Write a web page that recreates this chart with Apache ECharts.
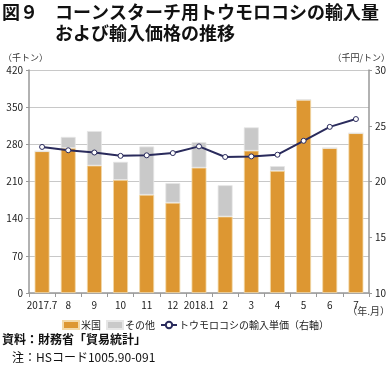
<!DOCTYPE html>
<html><head><meta charset="utf-8">
<script src="https://cdn.jsdelivr.net/npm/echarts@6/dist/echarts.min.js"></script>
<style>html,body{margin:0;padding:0;background:#fff}#c{width:391px;height:366px}</style>
</head><body><div id="c"></div>
<script>
var categories = ['2017.7','8','9','10','11','12','2018.1','2','3','4','5','6','7'];
var usValues = [267, 273, 240, 213, 185, 170, 236, 144, 268, 230, 364, 273, 301];
var otherValues = [0, 21, 65, 34, 91, 37, 48, 59, 44, 9, 0, 0, 0];
var priceValues = [23.1, 22.8, 22.6, 22.3, 22.35, 22.55, 23.15, 22.2, 22.25, 22.4, 23.65, 24.9, 25.6];
var leftTicks = [0, 70, 140, 210, 280, 350, 420];
var rightTicks = [10, 15, 20, 25, 30];

var F = '"Noto Sans CJK JP", "Noto Sans", sans-serif';
var chart = echarts.init(document.getElementById('c'));
chart.setOption({
  animation: false,
  textStyle: {fontFamily: F},
  grid: {left: 29, right: 22, top: 70, bottom: 73},
  legend: {
    top: 315, left: 'center', itemGap: 5, itemWidth: 16, itemHeight: 8,
    textStyle: {fontSize: 10, color: '#222', fontFamily: F, padding: [0, 0, 0, -3]},
    data: [
      {name: '米国', icon: 'rect'},
      {name: 'その他', icon: 'rect'},
      {name: 'トウモロコシの輸入単価（右軸）'}
    ]
  },
  xAxis: {
    type: 'category', data: categories,
    axisLine: {lineStyle: {color: '#999', width: 1.5}},
    axisTick: {show: true, lineStyle: {color: '#999'}, length: 4},
    axisLabel: {color: '#222', fontSize: 10, margin: 7, interval: 0, fontFamily: F}
  },
  yAxis: [
    {type: 'value', min: 0, max: 420, interval: 70,
     axisLine: {show: true, lineStyle: {color: '#999', width: 1.5}},
     axisTick: {show: true, lineStyle: {color: '#999'}, length: 3},
     splitLine: {lineStyle: {color: '#c8c8c8', width: 1}},
     axisLabel: {color: '#222', fontSize: 10, margin: 6, fontFamily: F}},
    {type: 'value', min: 10, max: 30, interval: 5,
     axisLine: {show: true, lineStyle: {color: '#999', width: 1.5}},
     axisTick: {show: true, lineStyle: {color: '#999'}, length: 3},
     splitLine: {show: false},
     axisLabel: {color: '#222', fontSize: 10, margin: 6, fontFamily: F}}
  ],
  series: [
    {name: '米国', type: 'bar', stack: 'a', data: usValues, barWidth: '57%',
     itemStyle: {color: '#dd9732', borderColor: '#f3d9a8', borderWidth: 0.8}},
    {name: 'その他', type: 'bar', stack: 'a', data: otherValues, barWidth: '57%',
     itemStyle: {color: '#c9c9c9', borderColor: '#e6e6e6', borderWidth: 0.8}},
    {name: 'トウモロコシの輸入単価（右軸）', type: 'line', yAxisIndex: 1, data: priceValues,
     symbol: 'circle', symbolSize: 5,
     lineStyle: {color: '#2a2b5c', width: 2},
     itemStyle: {color: '#fff', borderColor: '#2a2b5c', borderWidth: 1}}
  ],
  graphic: [
    {type: 'text', left: 2, top: 3, style: {text: '図９', font: 'bold 18px ' + F, fill: '#111'}},
    {type: 'text', left: 55, top: 3, style: {text: 'コーンスターチ用トウモロコシの輸入量', font: 'bold 18px ' + F, fill: '#111'}},
    {type: 'text', left: 55, top: 24, style: {text: 'および輸入価格の推移', font: 'bold 18px ' + F, fill: '#111'}},
    {type: 'text', left: 3, top: 53, style: {text: '（千トン）', font: '9px ' + F, fill: '#333'}},
    {type: 'text', right: 1, top: 53, style: {text: '（千円/トン）', font: '9px ' + F, fill: '#333'}},
    {type: 'text', right: 1, top: 306, style: {text: '（年.月）', font: '10px ' + F, fill: '#333'}},
    {type: 'text', left: 2, top: 333, style: {text: '資料：財務省「貿易統計」', font: 'bold 12px ' + F, fill: '#111'}},
    {type: 'text', left: 12, top: 351, style: {text: '注：HSコード1005.90-091', font: '12px ' + F, fill: '#111'}}
  ]
});
</script></body></html>
